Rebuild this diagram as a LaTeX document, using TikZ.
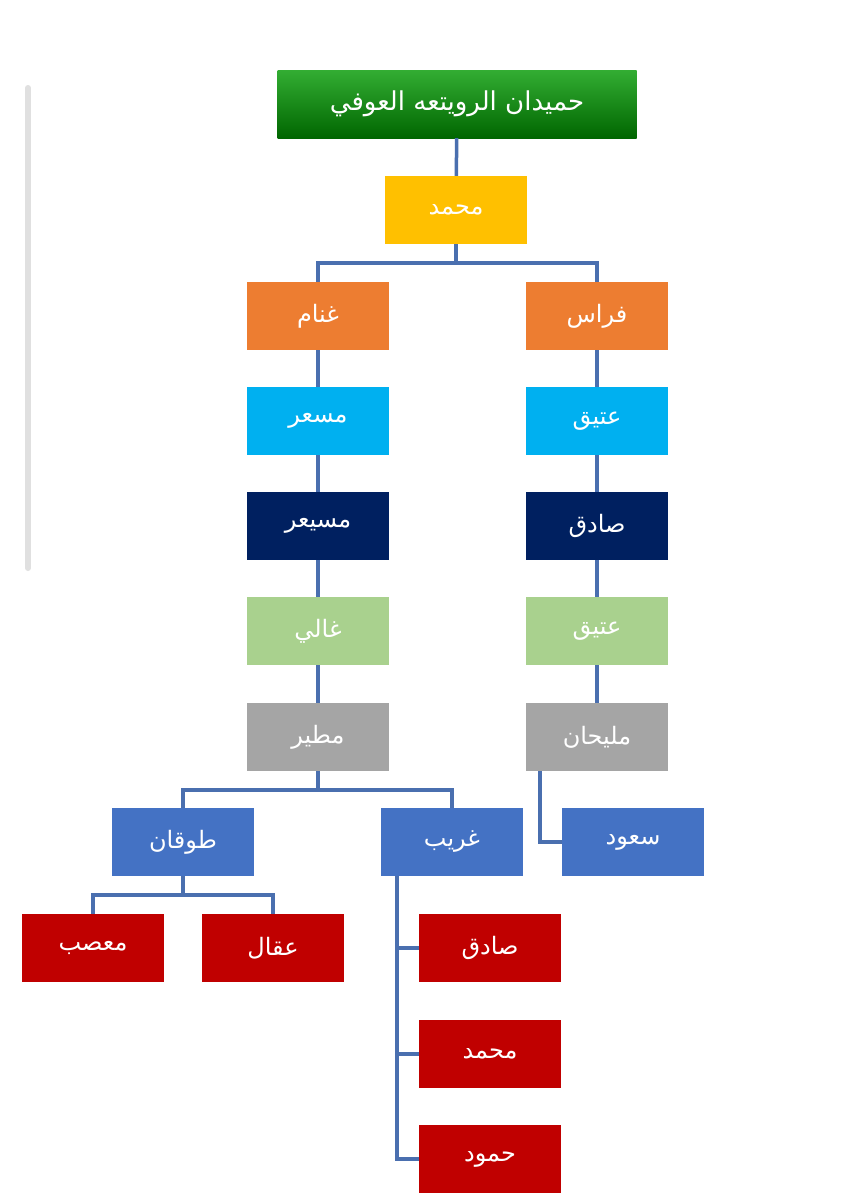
\documentclass[tikz,border=0pt]{standalone}
\usepackage{fontspec}
\TeXXeTstate=1
\newfontfamily\arabicfont[Script=Arabic]{DejaVu Sans}
\begin{document}
\begin{tikzpicture}[x=1pt,y=-1pt,
  box/.style={minimum width=142pt,minimum height=68pt,inner sep=0pt,text=white,font=\arabicfont\fontsize{24}{28}\selectfont},
  conn/.style={draw=linkc,line width=3.5pt}]
\definecolor{linkc}{HTML}{4A6FAF}
\definecolor{cy}{HTML}{FFC000}\definecolor{co}{HTML}{ED7D31}\definecolor{cl}{HTML}{00B0F0}
\definecolor{cn}{HTML}{002060}\definecolor{cg}{HTML}{A9D18E}\definecolor{cs}{HTML}{A5A5A5}
\definecolor{cb}{HTML}{4472C4}\definecolor{cr}{HTML}{C00000}
\useasboundingbox (0,0) rectangle (855,1200);
\fill[white] (0,0) rectangle (855,1200);
\draw[line width=6pt,line cap=round,draw=black!12] (28,88) -- (28,568);
\node[box,minimum width=359pt,top color=green!60!black!80,bottom color=green!40!black,font=\arabicfont\fontsize{26}{30}\selectfont] (top) at (457,104) {\beginR حميدان الرويتعه العوفي\endR};
\node[box,fill=cy] (m) at (456,210) {\beginR محمد\endR};
\node[box,fill=co] (L1) at (318,316) {\beginR غنام\endR};
\node[box,fill=co] (R1) at (597,316) {\beginR فراس\endR};
\node[box,fill=cl] (L2) at (318,421) {\beginR مسعر\endR};
\node[box,fill=cl] (R2) at (597,421) {\beginR عتيق\endR};
\node[box,fill=cn] (L3) at (318,526) {\beginR مسيعر\endR};
\node[box,fill=cn] (R3) at (597,526) {\beginR صادق\endR};
\node[box,fill=cg] (L4) at (318,631) {\beginR غالي\endR};
\node[box,fill=cg] (R4) at (597,631) {\beginR عتيق\endR};
\node[box,fill=cs] (L5) at (318,737) {\beginR مطير\endR};
\node[box,fill=cs] (R5) at (597,737) {\beginR مليحان\endR};
\node[box,fill=cb] (t) at (183,842) {\beginR طوقان\endR};
\node[box,fill=cb] (g) at (452,842) {\beginR غريب\endR};
\node[box,fill=cb] (s) at (633,842) {\beginR سعود\endR};
\node[box,fill=cr] (t1) at (93,948) {\beginR معصب\endR};
\node[box,fill=cr] (t2) at (273,948) {\beginR عقال\endR};
\node[box,fill=cr] (g1) at (490,948) {\beginR صادق\endR};
\node[box,fill=cr] (g2) at (490,1054) {\beginR محمد\endR};
\node[box,fill=cr] (g3) at (490,1159) {\beginR حمود\endR};
\draw[conn] (top) -- (m);
\draw[conn] (m.south) -- ++(0,19) -| (L1.north);
\draw[conn] (m.south) -- ++(0,19) -| (R1.north);
\draw[conn] (L1)--(L2); \draw[conn] (L2)--(L3); \draw[conn] (L3)--(L4); \draw[conn] (L4)--(L5);
\draw[conn] (R1)--(R2); \draw[conn] (R2)--(R3); \draw[conn] (R3)--(R4); \draw[conn] (R4)--(R5);
\draw[conn] (L5.south) -- ++(0,19) -| (t.north);
\draw[conn] (L5.south) -- ++(0,19) -| (g.north);
\draw[conn] (R5.south west) ++(14,0) |- (s.west);
\draw[conn] (t.south) -- ++(0,19) -| (t1.north);
\draw[conn] (t.south) -- ++(0,19) -| (t2.north);
\draw[conn] (g.south west) ++(16,0) |- (g3.west);
\draw[conn] (g.south west) ++(16,0) |- (g1.west);
\draw[conn] (g.south west) ++(16,0) |- (g2.west);
\end{tikzpicture}
\end{document}
